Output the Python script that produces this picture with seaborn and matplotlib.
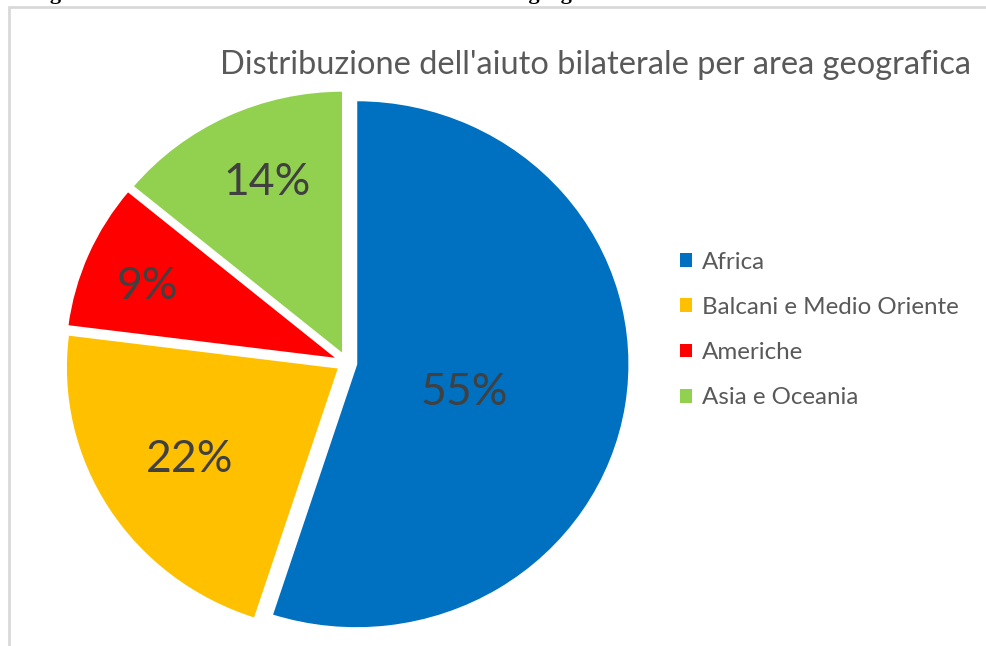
import numpy as np
import matplotlib
matplotlib.use("Agg")
import matplotlib.pyplot as plt
import seaborn as sns
from matplotlib.lines import Line2D
from matplotlib.patches import Patch

sns.set_theme(style="white")
plt.rcParams['font.family'] = ['Lato', 'DejaVu Sans']

# ---- data ----
categories = ["Africa", "Balcani e Medio Oriente", "Americhe", "Asia e Oceania"]
values = [55, 22, 9, 14]
colors = ["#0070C0", "#FFC000", "#FF0000", "#92D050"]
title = "Distribuzione dell'aiuto bilaterale per area geografica"
caption = "Figura 3 - Distribuzione dell'APS bilaterale allocato geograficamente"
label_dist = [0.41, 0.65, 0.75, 0.71]
label_shift = [-6, 0, 2, -2]  # degrees

W, H = 986, 646
SX = 1.035  # slight horizontal stretch of the original picture
fig = plt.figure(figsize=(W / 100, H / 100), dpi=100)
fig.patch.set_facecolor("white")
ax = fig.add_axes([0, 0, 1, 1])

cx, cy, r = 347 / SX, H - 362.8, 264
wedges, _ = ax.pie(values, colors=colors, startangle=90, counterclock=False,
                   center=(cx, cy), radius=r, explode=[9] * len(values),
                   wedgeprops=dict(edgecolor="white", linewidth=1.5),
                   frame=True)
ax.set_xlim(0, W / SX)
ax.set_ylim(0, H)
ax.set_aspect("auto")
ax.axis("off")

for w, v, d, s in zip(wedges, values, label_dist, label_shift):
    th = np.deg2rad((w.theta1 + w.theta2) / 2 + s)
    x = w.center[0] + d * w.r * np.cos(th)
    y = w.center[1] + d * w.r * np.sin(th)
    ax.text(x, y, f"{v}%", ha="center", va="center", fontsize=32, color="#404040")

fig.text(596 / W, 1 - 65 / H, title, ha="center", va="center",
         fontsize=23.4, color="#595959")

handles = [Patch(facecolor=c, edgecolor="none") for c in colors]
leg = fig.legend(handles, categories, loc="upper left",
                 bbox_to_anchor=(658 / W, 1 - 230 / H), frameon=False,
                 fontsize=17.4, handlelength=0.5, handleheight=0.5,
                 handletextpad=0.4, labelspacing=1.0, labelcolor="#595959")

# frame lines and clipped caption
fig.add_artist(Line2D([9 / W, 1], [1 - 7 / H, 1 - 7 / H], color="#d9d9d9", lw=2))
fig.add_artist(Line2D([9 / W, 9 / W], [0, 1 - 7 / H], color="#d9d9d9", lw=2))
fig.text(30 / W, 1 - 4 / H, caption, ha="left", va="bottom", fontsize=16,
         fontweight="bold", family=["Liberation Serif", "DejaVu Serif"], color="black")

fig.savefig("out.png", dpi=100, facecolor="white")
